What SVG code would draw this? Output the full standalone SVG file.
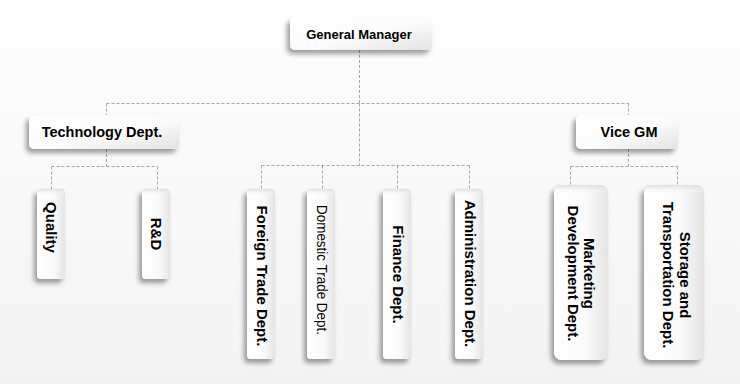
<svg xmlns="http://www.w3.org/2000/svg" width="740" height="384" viewBox="0 0 740 384">
<defs>
<linearGradient id="bg" x1="0" y1="0" x2="0" y2="1"><stop offset="0" stop-color="#fefefe"/><stop offset="1" stop-color="#f3f3f3"/></linearGradient>
<linearGradient id="gh" x1="0" y1="0" x2="1" y2="1"><stop offset="0" stop-color="#ffffff"/><stop offset="0.55" stop-color="#fbfbfb"/><stop offset="1" stop-color="#e2e2e2"/></linearGradient>
<linearGradient id="gv" x1="0" y1="0" x2="1" y2="0"><stop offset="0" stop-color="#ffffff"/><stop offset="0.6" stop-color="#fafafa"/><stop offset="1" stop-color="#e4e4e4"/></linearGradient>
<linearGradient id="gt" x1="0" y1="0" x2="0" y2="1"><stop offset="0" stop-color="#dcdcdc" stop-opacity="0.9"/><stop offset="1" stop-color="#ffffff" stop-opacity="0"/></linearGradient>
<filter id="sh" x="-40%" y="-20%" width="180%" height="150%"><feDropShadow dx="-3" dy="4" stdDeviation="2.5" flood-color="#000" flood-opacity="0.38"/></filter>
</defs>
<style>
.bh{fill:url(#gh);filter:url(#sh);}
.bv{fill:url(#gv);filter:url(#sh);}
.tp{fill:url(#gt);}
.t{font-family:"Liberation Sans",Arial,sans-serif;font-weight:bold;fill:#000;text-anchor:middle;}
.n{font-weight:normal;}
.c{fill:none;stroke:#a6a6a6;stroke-width:1;stroke-dasharray:3 2;}
</style>
<rect width="740" height="384" fill="url(#bg)"/>
<g id="connectors">
<path class="c" d="M359.5 50V103.5M106.5 103.5H628.5M106.5 103.5V115M628.5 103.5V115M359.5 103.5V165.5"/>
<path class="c" d="M106.5 149V166.5M51.5 166.5H157.5M51.5 166.5V189M157.5 166.5V189"/>
<path class="c" d="M628.5 149V166.5M570.5 166.5H677.5M570.5 166.5V185M677.5 166.5V185"/>
<path class="c" d="M261.5 165.5H469.5M261.5 165.5V189M322.5 165.5V189M397.5 165.5V189M469.5 165.5V189"/>
</g>
<g id="gm"><rect class="bh" x="290" y="17" width="142" height="33" rx="5"/><text class="t" x="359" y="39" font-size="13">General Manager</text></g>
<g id="tech"><rect class="bh" x="29" y="115" width="150" height="34" rx="5"/><text class="t" x="102" y="137" font-size="14.5">Technology Dept.</text></g>
<g id="vicegm"><rect class="bh" x="576" y="115" width="102" height="34" rx="5"/><text class="t" x="629" y="137" font-size="14.5">Vice GM</text></g>
<g id="quality"><rect class="bv" x="37" y="189" width="28" height="90" rx="4"/><rect class="tp" x="37" y="189" width="28" height="7" rx="4"/><text class="t" font-size="15" transform="translate(51,227.5) rotate(90)" dy="0.35em">Quality</text></g>
<g id="rd"><rect class="bv" x="142" y="189" width="28" height="90" rx="4"/><rect class="tp" x="142" y="189" width="28" height="7" rx="4"/><text class="t" font-size="15" transform="translate(156,234) rotate(90)" dy="0.35em">R&amp;D</text></g>
<g id="foreign"><rect class="bv" x="247" y="189" width="28" height="170" rx="4"/><rect class="tp" x="247" y="189" width="28" height="7" rx="4"/><text class="t" font-size="15" transform="translate(262,276) rotate(90)" dy="0.35em">Foreign Trade Dept.</text></g>
<g id="domestic"><rect class="bv" x="307" y="189" width="28" height="170" rx="4"/><rect class="tp" x="307" y="189" width="28" height="7" rx="4"/><text class="t n" font-size="14.5" transform="translate(322,270) rotate(90)" dy="0.35em" textLength="130" lengthAdjust="spacingAndGlyphs">Domestic Trade Dept.</text></g>
<g id="finance"><rect class="bv" x="383" y="189" width="28" height="170" rx="4"/><rect class="tp" x="383" y="189" width="28" height="7" rx="4"/><text class="t" font-size="15" transform="translate(398,274.5) rotate(90)" dy="0.35em">Finance Dept.</text></g>
<g id="admin"><rect class="bv" x="455" y="189" width="28" height="170" rx="4"/><rect class="tp" x="455" y="189" width="28" height="7" rx="4"/><text class="t" font-size="15" transform="translate(470,273.5) rotate(90)" dy="0.35em">Administration Dept.</text></g>
<g id="marketing"><rect class="bv" x="554" y="185" width="54" height="175" rx="8"/><rect class="tp" x="554" y="185" width="54" height="9" rx="8"/><text class="t" font-size="15" transform="translate(581,273.5) rotate(90)"><tspan x="0" dy="-3">Marketing</tspan><tspan x="0" dy="16.5">Development Dept.</tspan></text></g>
<g id="storage"><rect class="bv" x="644" y="185" width="60" height="175" rx="8"/><rect class="tp" x="644" y="185" width="60" height="9" rx="8"/><text class="t" font-size="15" transform="translate(676,275) rotate(90)"><tspan x="0" dy="-4">Storage and</tspan><tspan x="0" dy="17.5">Transportation Dept.</tspan></text></g>
</svg>
